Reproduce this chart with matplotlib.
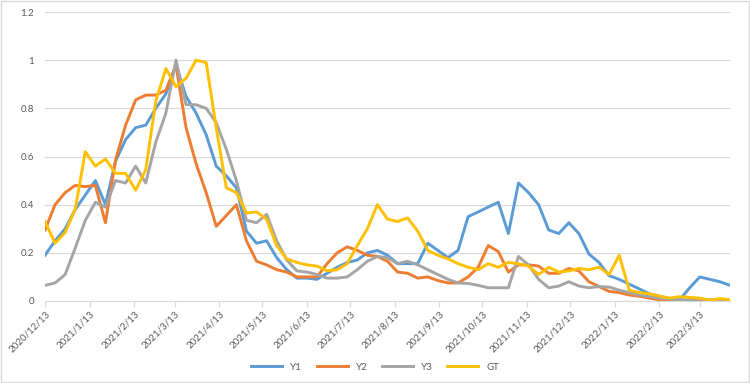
import pandas as pd
import matplotlib
matplotlib.use("Agg")
import matplotlib.pyplot as plt
from matplotlib.patches import Rectangle

# weekly samples, starting 2020/12/13
dates = pd.date_range("2020-12-13", periods=69, freq="7D")

y1 = [0.19, 0.25, 0.30, 0.38, 0.44, 0.50, 0.40, 0.58, 0.67, 0.72,
      0.73, 0.80, 0.86, 0.98, 0.85, 0.78, 0.69, 0.56, 0.52, 0.47,
      0.29, 0.24, 0.25, 0.18, 0.13, 0.095, 0.095, 0.09, 0.115, 0.14,
      0.16, 0.17, 0.20, 0.21, 0.19, 0.155, 0.155, 0.155, 0.24, 0.21,
      0.18, 0.21, 0.35, 0.37, 0.39, 0.41, 0.28, 0.49, 0.45, 0.40,
      0.295, 0.28, 0.325, 0.28, 0.195, 0.16, 0.105, 0.09, 0.07, 0.05,
      0.03, 0.02, 0.01, 0.005, 0.055, 0.10, 0.09, 0.08, 0.065]

y2 = [0.295, 0.40, 0.45, 0.48, 0.475, 0.48, 0.325, 0.585, 0.73, 0.835,
      0.855, 0.855, 0.875, 0.98, 0.72, 0.57, 0.45, 0.31, 0.355, 0.40,
      0.25, 0.165, 0.15, 0.13, 0.12, 0.10, 0.10, 0.10, 0.155, 0.20,
      0.225, 0.21, 0.19, 0.185, 0.165, 0.12, 0.115, 0.095, 0.10, 0.085,
      0.075, 0.075, 0.10, 0.14, 0.23, 0.205, 0.12, 0.15, 0.15, 0.145,
      0.115, 0.115, 0.135, 0.125, 0.08, 0.06, 0.04, 0.035, 0.025, 0.02,
      0.012, 0.005, 0.003, 0.002, 0.003, 0.005, 0.003, 0.002, 0.002]

y3 = [0.065, 0.075, 0.11, 0.22, 0.335, 0.41, 0.39, 0.50, 0.49, 0.56,
      0.49, 0.66, 0.78, 1.0, 0.815, 0.815, 0.80, 0.74, 0.63, 0.50,
      0.335, 0.325, 0.36, 0.25, 0.17, 0.125, 0.12, 0.11, 0.095, 0.095,
      0.10, 0.13, 0.165, 0.185, 0.18, 0.155, 0.165, 0.15, 0.13, 0.11,
      0.09, 0.075, 0.073, 0.065, 0.055, 0.055, 0.055, 0.185, 0.15, 0.09,
      0.055, 0.062, 0.08, 0.062, 0.055, 0.06, 0.058, 0.045, 0.035, 0.025,
      0.018, 0.012, 0.008, 0.005, 0.005, 0.008, 0.005, 0.003, 0.003]

gt = [0.33, 0.24, 0.285, 0.38, 0.62, 0.56, 0.59, 0.53, 0.53, 0.46,
      0.545, 0.83, 0.965, 0.89, 0.925, 1.0, 0.99, 0.72, 0.47, 0.45,
      0.365, 0.37, 0.34, 0.23, 0.175, 0.16, 0.15, 0.145, 0.125, 0.13,
      0.155, 0.23, 0.30, 0.40, 0.34, 0.33, 0.345, 0.29, 0.21, 0.19,
      0.175, 0.155, 0.14, 0.13, 0.155, 0.14, 0.16, 0.155, 0.145, 0.11,
      0.14, 0.12, 0.125, 0.135, 0.13, 0.14, 0.11, 0.19, 0.045, 0.035,
      0.03, 0.02, 0.012, 0.018, 0.015, 0.012, 0.003, 0.01, 0.005]

series = [("Y1", y1, "#5B9BD5"), ("Y2", y2, "#ED7D31"),
          ("Y3", y3, "#A5A5A5"), ("GT", gt, "#FFC000")]

# month ticks on the 13th
tick_dates = pd.date_range("2020-12-01", "2022-03-01", freq="MS") + pd.Timedelta(days=12)

plt.rcParams["font.family"] = ["Lato", "DejaVu Sans"]

fig = plt.figure(figsize=(7.5, 3.83), dpi=100)
ax = fig.add_axes([45 / 750, 1 - 301 / 383, 685 / 750, 289 / 383])

for name, vals, col in series:
    ax.plot(dates, vals, color=col, lw=2.1, label=name, solid_joinstyle="round")

ax.set_ylim(0, 1.2)
ax.set_yticks([0, 0.2, 0.4, 0.6, 0.8, 1.0, 1.2])
ax.set_yticklabels(["0", "0.2", "0.4", "0.6", "0.8", "1", "1.2"])
ax.set_xlim(dates[0], dates[-1])
ax.set_xticks(tick_dates)
ax.set_xticklabels([f"{d.year}/{d.month}/{d.day}" for d in tick_dates],
                   rotation=45, ha="right", rotation_mode="anchor")

ax.grid(axis="y", color="#D9D9D9", lw=0.8)
ax.set_axisbelow(True)
for s in ["top", "right", "left"]:
    ax.spines[s].set_visible(False)
ax.spines["bottom"].set_color("#D9D9D9")
ax.tick_params(axis="y", length=0, labelsize=7, labelcolor="#595959", pad=8)
ax.tick_params(axis="x", length=4, color="#D9D9D9", labelsize=7,
               labelcolor="#595959", pad=2)

fig.legend(loc="center", bbox_to_anchor=(0.5, 1 - 367 / 383), ncol=4,
           frameon=False, fontsize=7, handlelength=3.2, columnspacing=1.5,
           labelcolor="#595959")

fig.patches.append(Rectangle((0.001, 0.002), 0.997, 0.995, transform=fig.transFigure,
                             fill=False, edgecolor="#D9D9D9", lw=1))

fig.savefig("out.png", dpi=100)
